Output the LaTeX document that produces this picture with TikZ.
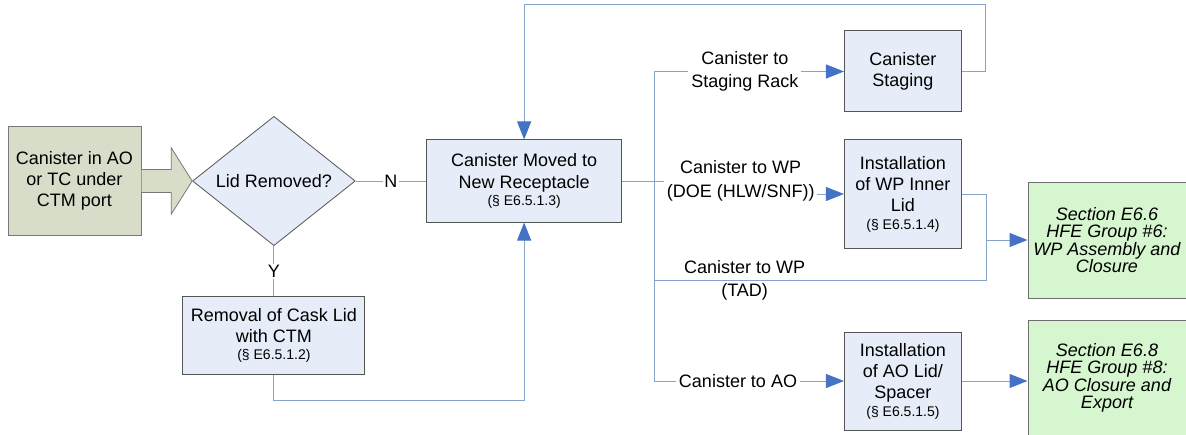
\documentclass[tikz,border=0pt]{standalone}
\usepackage{fontspec}
\setmainfont{Liberation Sans}
\usetikzlibrary{positioning, arrows.meta, shapes.geometric, calc}

\definecolor{boxblue}{RGB}{230,236,248}
\definecolor{boxedge}{RGB}{85,85,85}
\definecolor{srcfill}{RGB}{216,221,201}
\definecolor{srcedge}{RGB}{120,120,120}
\definecolor{secfill}{RGB}{213,246,206}
\definecolor{secedge}{RGB}{110,110,110}
\definecolor{linkblue}{RGB}{135,163,202}
\definecolor{tipblue}{RGB}{68,114,196}

\newcommand{\refsz}{\fontsize{10.5}{12}\selectfont}

\begin{document}
\begin{tikzpicture}[
        x=0.75pt, y=-0.75pt,
        >={Triangle[length=13.5pt, width=10.5pt, color=tipblue]},
        font=\fontsize{13.5}{16}\selectfont,
        block/.style={rectangle, draw=boxedge, fill=boxblue, line width=0.75pt, minimum width=87.75pt, align=center, inner sep=2pt},
        decision/.style={diamond, draw=boxedge, fill=boxblue, line width=0.6pt, minimum width=122pt, minimum height=93pt, inner sep=0pt},
        source/.style={rectangle, draw=srcedge, fill=srcfill, line width=0.75pt, minimum width=99.75pt, minimum height=81pt, align=center},
        section/.style={rectangle, draw=secedge, fill=secfill, line width=0.75pt, minimum width=118.5pt, minimum height=87pt, inner sep=1pt, align=center, font=\fontsize{13.5}{13}\selectfont\itshape},
        route/.style={align=center, inner sep=2pt, font=\fontsize{13.5}{17.5}\selectfont},
        line/.style={draw=linkblue, line width=0.75pt},
        arrow/.style={line, ->},
        bigarrow/.style={draw=srcedge, fill=srcfill, line width=0.6pt}
    ]
    \useasboundingbox (0,0) rectangle (1186,435);

    % Nodes
    \node[source] (start) at (74.5,181) {Canister in AO\\or TC under\\CTM port};
    \node[decision, right=38pt of start] (lid) {Lid Removed?};
    \node[block, right=53pt of lid, minimum width=146pt, minimum height=61.5pt] (moved) {Canister Moved to\\New Receptacle\\[-3pt]{\refsz (§ E6.5.1.3)}};
    \node[block, below=37.5pt of lid, minimum width=136.5pt, minimum height=58.5pt] (removal) {Removal of Cask Lid\\with CTM\\[-3pt]{\refsz (§ E6.5.1.2)}};

    \node[block, right=166.5pt of moved, yshift=-9.75pt, minimum height=81pt] (wpinner) {Installation\\of WP Inner\\Lid\\[-3pt]{\refsz (§ E6.5.1.4)}};
    \node[block, above=20.25pt of wpinner, minimum height=60.75pt] (staging) {Canister\\Staging};
    \node[block, below=62.25pt of wpinner, minimum height=73.5pt] (aolid) {Installation\\of AO Lid/\\Spacer\\[-3pt]{\refsz (§ E6.5.1.5)}};

    \node[section] (wpclose) at (1107,240) {Section E6.6\\HFE Group \#6:\\WP Assembly and\\Closure};
    \node[section] (aoclose) at (1107,378) {Section E6.8\\HFE Group \#8:\\AO Closure and\\Export};

    % Route labels
    \node[route, right=31.5pt of moved] (doelbl) {Canister to WP\\(DOE (HLW/SNF))};
    \node[route, left=32pt of staging] (stglbl) {Canister to\\Staging Rack};
    \node[route, left=33pt of aolid] (aolbl) {Canister to AO};
    \coordinate (trunk) at ([xshift=24.75pt]moved.east);
    \coordinate (tadend) at ([xshift=18.75pt, yshift=-24pt]wpinner.south east);

    % Edges
    \draw[bigarrow] ($(start.east)+(0,8.6pt)$) -- ($(lid.west)+(-15.75pt,8.6pt)$) -- ($(lid.west)+(-15.75pt,25pt)$)
        -- (lid.west) -- ($(lid.west)+(-15.75pt,-25pt)$) -- ($(lid.west)+(-15.75pt,-8.6pt)$) -- ($(start.east)+(0,-8.6pt)$);
    \draw[line] (lid) -- node[fill=white, inner sep=1pt] {N} (moved);
    \draw[line] (lid) -- node[fill=white, inner sep=1pt] {Y} (removal);
    \draw[arrow] (removal.south) -- ++(0,-18.75pt) -| (moved.south);
    \draw[arrow] (staging.east) -- ++(18pt,0) |- ([yshift=19.5pt]staging.north) -| (moved.north);

    \draw[line] (moved.east) -- (doelbl.west);
    \draw[arrow] (doelbl.east |- wpinner.west) -- (wpinner.west);
    \draw[line] (stglbl.west |- staging.west) -| (trunk |- aolbl.west) -- (aolbl.west);
    \draw[arrow] (stglbl.east |- staging.west) -- (staging.west);
    \draw[arrow] (aolbl) -- (aolid);
    \draw[line] (wpinner.east) -| (tadend) -- node[route, pos=0.73] {Canister to WP\\(TAD)} (trunk |- tadend);
    \draw[arrow] (tadend |- wpclose.west) -- (wpclose.west);
    \draw[arrow] (aolid) -- (aolid.east -| aoclose.west);

\end{tikzpicture}
\end{document}
